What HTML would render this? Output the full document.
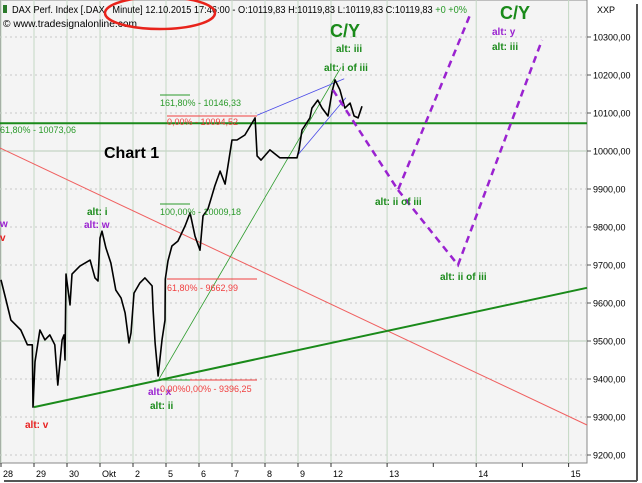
<!DOCTYPE html>
<html><head><meta charset="utf-8">
<style>
body{margin:0;background:#fff;font-family:"Liberation Sans",sans-serif;}
#wrap{position:relative;width:642px;height:483px;overflow:hidden;background:#fff;}
svg text{font-family:"Liberation Sans",sans-serif;}
</style></head>
<body>
<div id="wrap">
<svg id="chart" width="642" height="483" viewBox="0 0 642 483">
  <rect x="0" y="0" width="642" height="483" fill="#ffffff"/>
  <rect x="0" y="0" width="587" height="463" fill="#f4f4f4" stroke="#888" stroke-width="1"/>
  <g id="grid"></g>
  <g id="yaxis"></g>
  <g id="xaxis"></g>
  <g id="marks"></g>
  <g id="labels"></g>
  <line x1="637" y1="4" x2="637" y2="481" stroke="#555" stroke-width="2"/>
  <line x1="4" y1="481" x2="637" y2="481" stroke="#555" stroke-width="2"/>
  <text x="12" y="13" font-size="10" fill="#000" textLength="455" lengthAdjust="spacingAndGlyphs">DAX Perf. Index [.DAX&#160; &#160;Minute] 12.10.2015 17:46:00 - O:10119,83 H:10119,83 L:10119,83 C:10119,83 <tspan fill="#2a9a2a">+0 +0%</tspan></text>
  <rect x="3" y="5" width="4" height="8" fill="#2a7a2a"/>
  <text x="3" y="27" font-size="10" fill="#000" textLength="134" lengthAdjust="spacingAndGlyphs">© www.tradesignalonline.com</text>
  <ellipse cx="160" cy="13" rx="55" ry="16" fill="none" stroke="#e8231b" stroke-width="2.5"/>
  <text x="597" y="13" font-size="9" fill="#000">XXP</text>
</svg>
</div>
<script>
const yTicks=[10300,10200,10100,10000,9900,9800,9700,9600,9500,9400,9300,9200];
const xLabels=["28","29","30","Okt","2","5","6","7","8","9","12","13","14","15"];
const xLabelDays=[0,1,2,3,4,5,6,7,8,9,10,11.7,14.4,17.2];
const xExtraTicks=[13.1,15.8];
const priceDays=[0,0.15,0.3,0.6,0.8,0.95,0.97,1.03,1.18,1.33,1.48,1.63,1.72,1.85,1.91,1.94,1.97,2.09,2.15,2.39,2.7,2.85,2.94,3.0,3.06,3.18,3.33,3.48,3.64,3.76,3.88,3.94,4.03,4.21,4.36,4.58,4.61,4.67,4.76,4.88,4.97,4.98,5.06,5.18,5.36,5.58,5.73,5.88,6.03,6.12,6.27,6.39,6.48,6.64,6.79,7.0,7.15,7.39,7.7,7.76,7.88,8.15,8.45,8.97,9.03,9.12,9.36,9.42,9.6,9.73,9.91,10.03,10.12,10.27,10.42,10.58,10.7,10.82,10.94];
const prices=[9661,9608,9555,9529,9490,9490,9326,9445,9529,9503,9516,9490,9384,9503,9516,9450,9676,9595,9676,9697,9713,9666,9658,9771,9789,9745,9705,9634,9613,9574,9495,9521,9626,9653,9666,9645,9582,9495,9408,9503,9555,9663,9711,9750,9763,9803,9837,9776,9739,9829,9847,9882,9908,9947,9913,10029,10029,10042,10087,9987,9976,10003,9982,9982,10003,10055,10087,10113,10134,10113,10092,10155,10187,10161,10113,10126,10092,10087,10118];
const bandLevels=[10000,9500];

const NS="http://www.w3.org/2000/svg";
const yS=v=>37+(10300-v)*0.38;
const xS=d=>1+d*33;
function mk(tag,attrs,parent){const e=document.createElementNS(NS,tag);for(const k in attrs)e.setAttribute(k,attrs[k]);document.getElementById(parent).appendChild(e);return e;}

yTicks.forEach(v=>{
  const solid=bandLevels.includes(v);
  const g=mk('line',{x1:0,x2:587,y1:yS(v),y2:yS(v),stroke:solid?'#b8ccb8':'#c8c8c8','stroke-width':1,'stroke-dasharray':solid?'none':'2,3'},'grid');
  
  
  const tk=mk('line',{x1:587,x2:591,y1:yS(v),y2:yS(v),stroke:'#555'},'yaxis');
  
  
  const t=mk('text',{x:593,y:yS(v)+3.5,'font-size':9,fill:'#000'},'yaxis');
  t.textContent=v.toLocaleString('de-DE',{minimumFractionDigits:2}).replace('.','');
  
  
});
xLabelDays.forEach((d,i)=>{
  const g=mk('line',{x1:xS(d),x2:xS(d),y1:0,y2:463,stroke:'#c4d8c4','stroke-width':1},'grid');
  
  
  const tk=mk('line',{x1:xS(d),x2:xS(d),y1:463,y2:467,stroke:'#333'},'xaxis');
  
  
  const t=mk('text',{x:xS(d)+2,y:477,'font-size':9,fill:'#000'},'xaxis');
  t.textContent=xLabels[i];
  
  
});
xExtraTicks.forEach(d=>{
  const tk=mk('line',{x1:xS(d),x2:xS(d),y1:463,y2:467,stroke:'#333'},'xaxis');
  
  
});

function line(x1,y1,x2,y2,st,w,name,dash){const l=mk('line',{x1,y1,x2,y2,stroke:st,'stroke-width':w,'stroke-dasharray':dash||'none'},'marks');
  
  return l;}

line(0,148,587,425,'#f06060',1,'red-trendline');
line(xS(1),yS(9326),587,yS(9640),'#1a8a1a',2,'green-support-line');
line(0,yS(10073),587,yS(10073),'#1a8a1a',2,'fib-61-level');
line(xS(4.76),yS(9396),xS(10.3),yS(10220),'#2a9a2a',0.8,'green-channel-line');
line(xS(7.76),yS(10094),xS(10.4),yS(10190),'#4a4ae8',0.8,'blue-upper-line');
line(xS(9.0),yS(9990),xS(10.45),yS(10140),'#4a4ae8',0.8,'blue-lower-line');
line(160,95,190,95,'#2a9a2a',1,'fib-161-line');
line(167,116,257,116,'#f04040',1,'fib-0-top-line');
line(160,204,190,204,'#2a9a2a',1,'fib-100-line');
line(167,279,257,279,'#f04040',1,'fib-618-line');
line(165,380,257,380,'#f04040',1,'fib-0-bottom-line');
line(162,380,190,380,'#2a9a2a',1,'fib-0-green-line');

const pts=priceDays.map((d,i)=>xS(d).toFixed(1)+','+yS(prices[i]).toFixed(1)).join(' ');
const pl=mk('polyline',{points:pts,fill:'none',stroke:'#000','stroke-width':1.6,'stroke-linejoin':'round'},'marks');



const pa=mk('polyline',{points:'333,90 398,190 470,15',fill:'none',stroke:'#9a22d0','stroke-width':2.5,'stroke-dasharray':'7,5'},'marks');


const pb=mk('polyline',{points:'398,190 458,265 542,40',fill:'none',stroke:'#9a22d0','stroke-width':2.5,'stroke-dasharray':'7,5'},'marks');



const L=[
 [330,37,'C/Y','#1a8a1a',18,'bold','cy-label-1'],
 [500,19,'C/Y','#1a8a1a',18,'bold','cy-label-2'],
 [336,52,'alt: iii','#1a8a1a',10,'bold','alt-iii-label'],
 [324,71,'alt: i of iii','#1a8a1a',10,'bold','alt-i-of-iii-label'],
 [492,35,'alt: y','#9a22d0',10,'bold','alt-y-label'],
 [492,50,'alt: iii','#1a8a1a',10,'bold','alt-iii-label-2'],
 [375,205,'alt: ii of iii','#1a8a1a',10,'bold','alt-ii-of-iii-label-1'],
 [440,280,'alt: ii of iii','#1a8a1a',10,'bold','alt-ii-of-iii-label-2'],
 [104,158,'Chart 1','#000',16,'bold','chart-1-label'],
 [87,215,'alt: i','#1a8a1a',10,'bold','alt-i-label'],
 [84,228,'alt: w','#9a22d0',10,'bold','alt-w-label'],
 [0,227,'w','#9a22d0',10,'bold','w-label'],
 [0,241,'v','#e82020',10,'bold','v-label'],
 [148,395,'alt: x','#9a22d0',10,'bold','alt-x-label'],
 [150,409,'alt: ii','#1a8a1a',10,'bold','alt-ii-label'],
 [25,428,'alt: v','#e82020',10,'bold','alt-v-label'],
 [160,106,'161,80% - 10146,33','#2a9a2a',9,'normal','fib-161-text'],
 [167,125,'0,00% - 10094,52','#f04040',9,'normal','fib-0-top-text'],
 [0,133,'61,80% - 10073,06','#2a9a2a',9,'normal','fib-61-text'],
 [160,215,'100,00% - 10009,18','#2a9a2a',9,'normal','fib-100-text'],
 [167,291,'61,80% - 9662,99','#f04040',9,'normal','fib-618-text'],
 [160,392,'0,00%0,00% - 9396,25','#f04040',9,'normal','fib-0-bottom-text']
];
L.forEach(a=>{const t=mk('text',{x:a[0],y:a[1],fill:a[3],'font-size':a[4],'font-weight':a[5]},'labels');t.textContent=a[2];
 
 });
</script>
</body></html>
